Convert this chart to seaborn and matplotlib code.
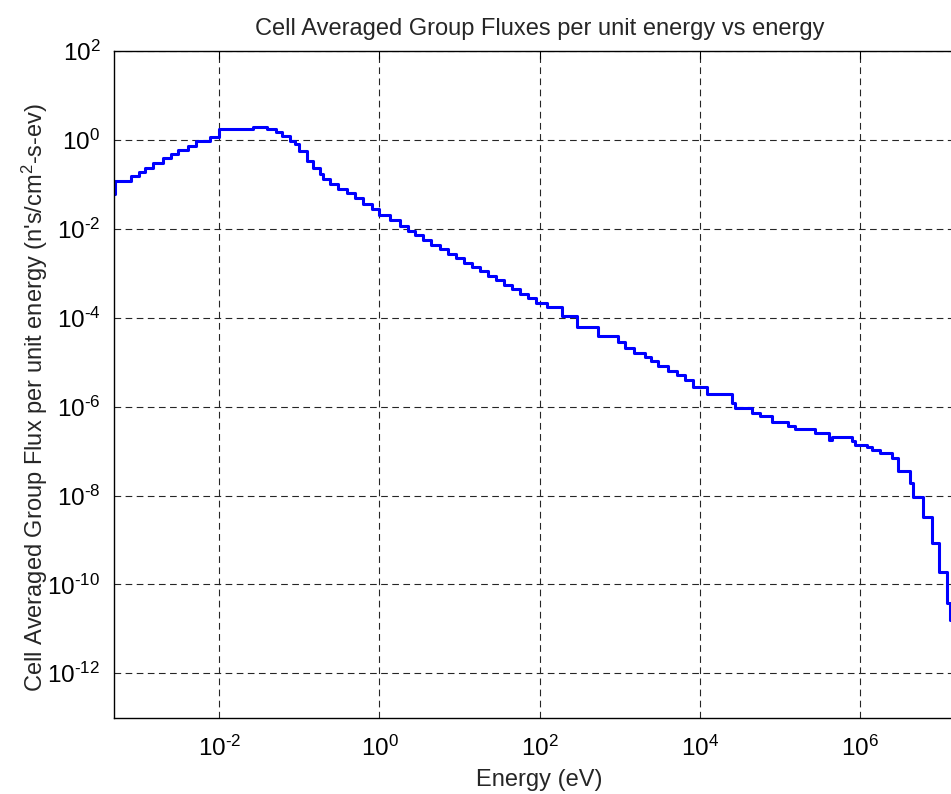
import matplotlib
matplotlib.use("Agg")
import matplotlib.pyplot as plt
import matplotlib.ticker as mticker
import seaborn as sns
import pandas as pd
import math

# Group boundaries (eV): left edge of each group, last entry is the upper end
energy_edges = [
    4.89e-4, 5.0e-4, 7.8e-4, 1.0e-3, 1.18e-3, 1.49e-3, 1.96e-3, 2.53e-3, 3.01e-3,
    4.12e-3, 5.19e-3, 7.55e-3, 1.0e-2, 2.66e-2, 3.91e-2, 5.10e-2, 6.07e-2, 7.63e-2,
    8.81e-2, 0.100, 0.123, 0.149, 0.181, 0.200, 0.241, 0.303, 0.393, 0.494, 0.622,
    0.806, 1.0, 1.35, 1.80, 2.27, 2.77, 3.49, 4.40, 5.69, 7.16, 9.02, 11.35, 14.3,
    18.0, 22.6, 28.5, 35.8, 45.1, 56.8, 71.5, 90.0, 122, 188, 290, 539, 958, 1161,
    1504, 2064, 2453, 3001, 3999, 5179, 6518, 8204, 12160, 24950, 27430, 44330,
    56260, 79430, 1.259e5, 1.539e5, 2.737e5, 4.09e5, 4.464e5, 7.86e5, 8.636e5,
    1.208e6, 1.396e6, 1.772e6, 2.482e6, 3.0e6, 4.2e6, 4.62e6, 6.15e6, 7.83e6,
    9.66e6, 1.227e7, 1.325e7, 2.0e7,
]

# Cell averaged group flux per unit energy for each group
group_flux = [
    0.0612, 0.1186, 0.158, 0.189, 0.242, 0.314, 0.390, 0.484, 0.590, 0.726, 0.964,
    1.156, 1.767, 1.94, 1.75, 1.537, 1.249, 0.964, 0.813, 0.575, 0.343, 0.242,
    0.172, 0.133, 0.1042, 0.0784, 0.0637, 0.0505, 0.0370, 0.0286, 0.0210, 0.01577,
    0.01186, 0.00915, 0.00717, 0.00571, 0.00446, 0.00349, 0.00278, 0.00221,
    0.00175, 0.00139, 0.00111, 8.79e-4, 7.0e-4, 5.55e-4, 4.42e-4, 3.52e-4,
    2.79e-4, 2.15e-4, 1.73e-4, 1.127e-4, 6.21e-5, 3.90e-5, 2.86e-5, 2.15e-5,
    1.62e-5, 1.30e-5, 1.07e-5, 8.05e-6, 6.37e-6, 5.05e-6, 3.90e-6, 2.76e-6,
    1.96e-6, 1.19e-6, 9.40e-7, 7.26e-7, 6.21e-7, 4.51e-7, 3.71e-7, 3.12e-7,
    2.58e-7, 1.75e-7, 2.04e-7, 1.70e-7, 1.39e-7, 1.22e-7, 1.08e-7, 8.93e-8,
    6.89e-8, 3.61e-8, 1.94e-8, 9.5e-9, 3.21e-9, 8.61e-10, 1.92e-10, 3.74e-11,
    1.58e-11,
]

x_ticks = [1e-2, 1e0, 1e2, 1e4, 1e6]
y_ticks = [1e-12, 1e-10, 1e-8, 1e-6, 1e-4, 1e-2, 1e0, 1e2]

df = pd.DataFrame({
    "energy": energy_edges,
    "flux": group_flux + [group_flux[-1]],
})

sns.set_style("white")
plt.rcParams["font.family"] = ["Liberation Sans", "DejaVu Sans"]
plt.rcParams["mathtext.fontset"] = "custom"
plt.rcParams["mathtext.rm"] = "Liberation Sans"
plt.rcParams["mathtext.it"] = "Liberation Sans:italic"
plt.rcParams["mathtext.bf"] = "Liberation Sans:bold"
plt.rcParams["axes.unicode_minus"] = False


def pow10_label(v, pos):
    e = int(round(math.log10(v)))
    if e < 0:
        return r"$\mathregular{10^{\text{-}%d}}$" % (-e)
    return r"$\mathregular{10^{%d}}$" % e


fig = plt.figure(figsize=(9.51, 7.94), dpi=100)
W, H = 951, 794
left_px, right_px, top_px, bottom_px = 114.3, 964.3, 51.3, 717.7
ax = fig.add_axes([left_px / W, 1 - bottom_px / H,
                   (right_px - left_px) / W, (bottom_px - top_px) / H])

sns.lineplot(data=df, x="energy", y="flux", ax=ax, sort=False, estimator=None,
             drawstyle="steps-post", color="#0000ff", linewidth=2.2)

ax.set_xscale("log")
ax.set_yscale("log")
ax.set_xlim(energy_edges[0], energy_edges[-1])
ax.set_ylim(1e-13, 1e2)
ax.xaxis.set_major_locator(mticker.FixedLocator(x_ticks))
ax.yaxis.set_major_locator(mticker.FixedLocator(y_ticks))
ax.xaxis.set_minor_locator(mticker.NullLocator())
ax.yaxis.set_minor_locator(mticker.NullLocator())
ax.xaxis.set_major_formatter(mticker.FuncFormatter(pow10_label))
ax.yaxis.set_major_formatter(mticker.FuncFormatter(pow10_label))

ax.grid(True, which="major", color="0.15", linestyle=(0, (6, 4)), linewidth=0.8)
ax.tick_params(axis="both", which="major", direction="in", length=6, width=0.8,
               labelsize=17.5, colors="black", top=True, right=True)
ax.tick_params(axis="x", pad=13)
ax.tick_params(axis="y", pad=10)
for s in ax.spines.values():
    s.set_color("black")
    s.set_linewidth(1.0)

ax.set_title("Cell Averaged Group Fluxes per unit energy vs energy", fontsize=17, pad=12)
ax.set_xlabel("Energy (eV)", fontsize=17, labelpad=6)
ax.set_ylabel("Cell Averaged Group Flux per unit energy (n's/cm$^2$-s-ev)", fontsize=17)
ax.yaxis.set_label_coords((50 - left_px) / (right_px - left_px), 0.48)
if ax.get_legend() is not None:
    ax.get_legend().remove()

fig.savefig("out.png", dpi=100)
